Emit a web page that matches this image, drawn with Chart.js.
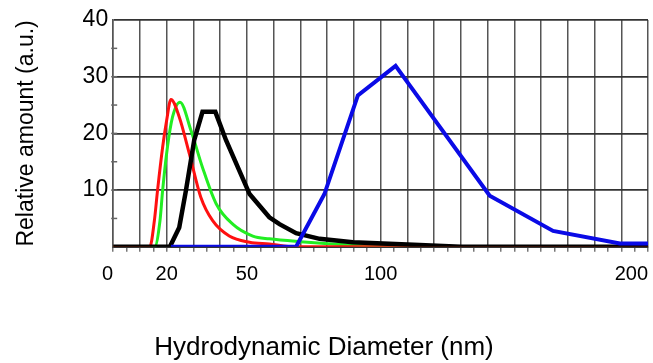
<!DOCTYPE html>
<html>
<head>
<meta charset="utf-8">
<script src="https://cdn.jsdelivr.net/npm/chart.js@4.4.1/dist/chart.umd.min.js"></script>
<style>
  html, body { margin: 0; padding: 0; background: #fff; }
  #wrap { width: 653px; height: 363px; }
</style>
</head>
<body>
<div id="wrap"><canvas id="dls-chart"></canvas></div>
<script>
// values: [diameter nm, relative amount]
const redSeries = [[0, 0], [13.7, 0], [15.4, 4.6], [16.6, 10], [18.5, 17.6], [20, 22.3], [21.6, 26],
  [24.7, 22.9], [28.5, 16.4], [32.8, 8.7], [37.2, 4.6], [43.4, 1.9], [51, 0.8], [58.4, 0.5], [68, 0], [200, 0]];
const greenSeries = [[0, 0], [15.5, 0], [17.5, 4.6], [18.5, 10], [20.3, 17.6], [22.2, 22.9], [25, 25.5],
  [29.1, 20.5], [33.4, 14], [38.5, 7.6], [44.7, 4.0], [52.2, 1.9], [58.4, 1.4], [70, 0.9], [90, 0.3], [110, 0], [200, 0]];
const blackSeries = [[0, 0], [21.2, 0], [24.7, 3.4], [27.2, 9.9], [30.3, 18.8], [33.4, 23.8], [38.2, 23.8],
  [42.2, 18.8], [51, 9.3], [58.4, 5.2], [62.2, 4.0], [68.4, 2.4], [77.2, 1.4], [89.6, 0.8], [114.6, 0.3], [130, 0], [200, 0]];
const blueSeries = [[21.6, 0], [68.4, 0], [79, 9.3], [91.5, 26.7], [105.6, 31.9], [140.8, 9.0],
  [164.5, 2.8], [189.5, 0.6], [200, 0.6]];

const xTickLabels = [0, 20, 50, 100, 200];
const yTickLabels = [10, 20, 30, 40];

const FONT = "'Liberation Sans', Arial, sans-serif";

function toPoints(series) {
  return series.map(([x, y]) => ({ x, y }));
}

function line(label, series, color, width, smooth) {
  return {
    label,
    data: toPoints(series),
    borderColor: color,
    borderWidth: width,
    pointRadius: 0,
    fill: false,
    tension: 0,
    cubicInterpolationMode: smooth ? 'monotone' : 'default'
  };
}

// x labels drawn under the axis (end ones right-aligned like the original),
// plus the short marks that cross the y axis every 5 units
const axisExtras = {
  id: 'axisExtras',
  afterDraw(chart) {
    const { ctx, scales: { x, y } } = chart;
    ctx.save();
    ctx.fillStyle = '#000';
    ctx.font = `20px ${FONT}`;
    ctx.textBaseline = 'middle';
    xTickLabels.forEach((v, i) => {
      ctx.textAlign = (i === 0 || i === xTickLabels.length - 1) ? 'right' : 'center';
      ctx.fillText(String(v), x.getPixelForValue(v), x.top + 28);
    });
    ctx.strokeStyle = '#666';
    ctx.lineWidth = 1.5;
    for (let v = 5; v < 40; v += 5) {
      const py = y.getPixelForValue(v);
      ctx.beginPath();
      ctx.moveTo(x.left - 2, py);
      ctx.lineTo(x.left + 4, py);
      ctx.stroke();
    }
    ctx.restore();
  }
};

new Chart(document.getElementById('dls-chart'), {
  type: 'line',
  data: {
    datasets: [
      line('blue', blueSeries, '#0a0ae6', 4, false),
      line('black', blackSeries, '#000000', 4.5, false),
      line('red', redSeries, '#ff1010', 3, true),
      line('green', greenSeries, '#22ee22', 3, true)
    ]
  },
  options: {
    responsive: true,
    maintainAspectRatio: false,
    animation: false,
    layout: { padding: { top: 20, right: 5, left: 0, bottom: 0 } },
    plugins: {
      legend: { display: false },
      tooltip: { enabled: false },
      // the axis caption sits centred on the whole figure, so use the chart title
      title: {
        display: true,
        position: 'bottom',
        text: 'Hydrodynamic Diameter (nm)',
        color: '#000',
        font: { family: FONT, size: 26, weight: 'normal' },
        padding: { top: 80, bottom: 0 }
      }
    },
    scales: {
      x: {
        type: 'linear',
        min: 0,
        max: 200,
        ticks: { stepSize: 5, display: false },
        grid: {
          color: (c) => (c.tick && c.tick.value % 10 === 0) ? '#555' : 'rgba(0,0,0,0)',
          lineWidth: 1.5,
          tickLength: 5,
          tickColor: '#777'
        },
        border: { color: '#333', width: 2 }
      },
      y: {
        min: 0,
        max: 40,
        afterBuildTicks: (scale) => { scale.ticks = [0, ...yTickLabels].map((value) => ({ value })); },
        ticks: {
          color: '#000',
          font: { family: FONT, size: 23 },
          padding: 5,
          callback: (v) => yTickLabels.includes(v) ? String(v) : ''
        },
        grid: { color: '#333', lineWidth: 1.8, drawTicks: false },
        border: { color: '#555', width: 1.5 },
        title: {
          display: true,
          text: 'Relative amount (a.u.)',
          color: '#000',
          font: { family: FONT, size: 23 },
          padding: { top: 13, bottom: 37 }
        }
      }
    }
  },
  plugins: [axisExtras]
});
</script>
</body>
</html>
